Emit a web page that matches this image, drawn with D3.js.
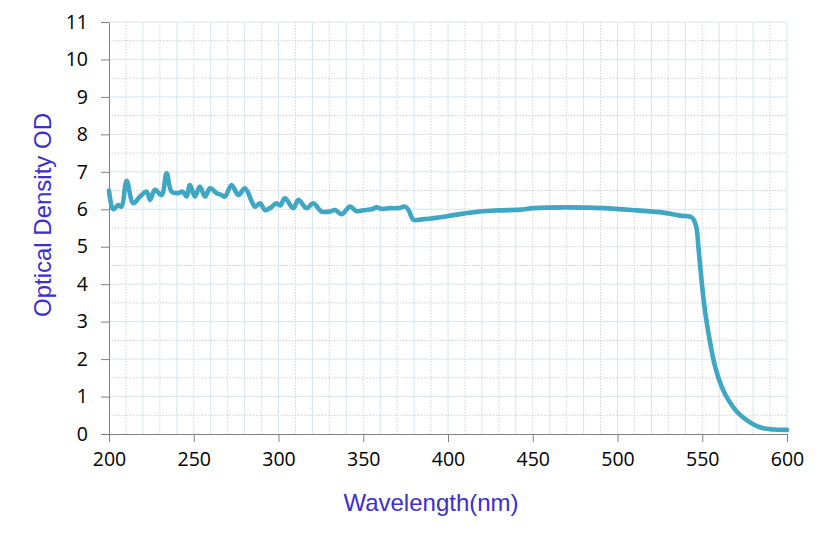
<!DOCTYPE html>
<html><head><meta charset="utf-8">
<script src="https://cdn.jsdelivr.net/npm/d3@7"></script>
<style>html,body{margin:0;padding:0;background:#fff;}</style>
</head><body><svg id="c" width="822" height="537"></svg>
<script>
const wavelength = [200,202.5,205.5,207.4,210.4,214.3,218.3,222.2,224.2,227.1,231,234,236.9,240.9,243.4,245.8,247.7,250.7,253.6,256.6,259.6,263.5,266.4,268.4,272.3,276.3,280.2,284.2,286.1,289.1,292,295,298.9,300.9,303.8,308.7,311.7,316.6,320.5,325.4,330.4,333.3,337.3,342.2,346.1,351.1,355,357.9,360.9,365.9,370.8,374.7,376.7,379.6,384.5,394.3,404.1,418.9,430,442.5,450.4,470,491.7,511.3,527,537,543.9,546.4,547.8,549.2,550.8,552.7,555.1,557.6,561.5,565.4,570.3,576.2,584,592,600];
const od = [6.5,6.0,6.11,6.07,6.76,6.16,6.34,6.47,6.25,6.52,6.38,6.96,6.47,6.43,6.47,6.34,6.65,6.34,6.61,6.34,6.56,6.43,6.38,6.34,6.65,6.38,6.56,6.21,6.07,6.16,5.98,6.03,6.16,6.1,6.29,6.03,6.25,6.03,6.16,5.94,5.94,5.98,5.87,6.07,5.95,5.98,6.0,6.05,6.01,6.03,6.03,6.07,5.98,5.72,5.73,5.78,5.85,5.94,5.97,5.99,6.03,6.05,6.03,5.97,5.91,5.83,5.78,5.54,4.95,4.29,3.58,2.96,2.33,1.8,1.26,0.91,0.6,0.37,0.18,0.12,0.11];
const xTicks = [200,250,300,350,400,450,500,550,600];
const yTicks = [0,1,2,3,4,5,6,7,8,9,10,11];
const xTitle = "Wavelength(nm)";
const yTitle = "Optical Density OD";

const svg = d3.select("#c");
const x = d3.scaleLinear().domain([200,600]).range([109,787]);
const y = d3.scaleLinear().domain([0,11]).range([434,22]);
const font = "'Open Sans', 'Noto Sans', sans-serif";

const grid = svg.append("g");
d3.range(210,601,10).forEach(v=>{
  grid.append("line").attr("x1",x(v)).attr("x2",x(v)).attr("y1",y(11)).attr("y2",y(0))
    .attr("stroke", v%20===0 ? "#d6e6ec" : "#d4d4d4")
    .attr("stroke-dasharray", v%20===0 ? null : "1.5,1.5")
    .attr("stroke-width",1);
});
d3.range(0.5,11.01,0.5).forEach(v=>{
  const isInt = Math.abs(v-Math.round(v))<1e-6;
  grid.append("line").attr("x1",x(200)).attr("x2",x(600)).attr("y1",y(v)).attr("y2",y(v))
    .attr("stroke", isInt ? "#d6e6ec" : "#cfcfcf")
    .attr("stroke-dasharray", isInt ? null : "1.5,1.5")
    .attr("stroke-width",1);
});

const xAxis = d3.axisBottom(x).tickValues(xTicks).tickSize(8).tickSizeOuter(0).tickPadding(10);
const gx = svg.append("g").attr("transform",`translate(0,${y(0)})`).call(xAxis);
gx.select(".domain").attr("stroke","#808080").attr("d",`M101,0.5H${x(600)}`);
gx.selectAll(".tick line").attr("stroke","#808080");
gx.selectAll(".tick text").attr("font-family",font).attr("font-size","19.5px").attr("fill","#000");

const yAxis = d3.axisLeft(y).tickValues(yTicks).tickSize(8).tickSizeOuter(0).tickPadding(13);
const gy = svg.append("g").attr("transform",`translate(${x(200)},0)`).call(yAxis);
gy.select(".domain").attr("stroke","#808080");
gy.selectAll(".tick line").attr("stroke","#808080");
gy.selectAll(".tick text").attr("font-family",font).attr("font-size","19.5px").attr("fill","#000");

const line = d3.line().x((d,i)=>x(wavelength[i])).y(d=>y(d)).curve(d3.curveCatmullRom.alpha(0.5));
svg.append("path").datum(od).attr("d",line).attr("fill","none")
  .attr("stroke","#3fa7c3").attr("stroke-width",4.6).attr("stroke-linejoin","round").attr("stroke-linecap","round");

svg.append("text").attr("x",431).attr("y",511).attr("text-anchor","middle")
  .attr("font-family","'Liberation Sans', Arial, sans-serif").attr("font-size","24px").attr("fill","#3b2ed2").text(xTitle);
svg.append("text").attr("transform","translate(51,215) rotate(-90)").attr("text-anchor","middle")
  .attr("font-family","'Liberation Sans', Arial, sans-serif").attr("font-size","24px").attr("fill","#3b2ed2").text(yTitle);
</script></body></html>
